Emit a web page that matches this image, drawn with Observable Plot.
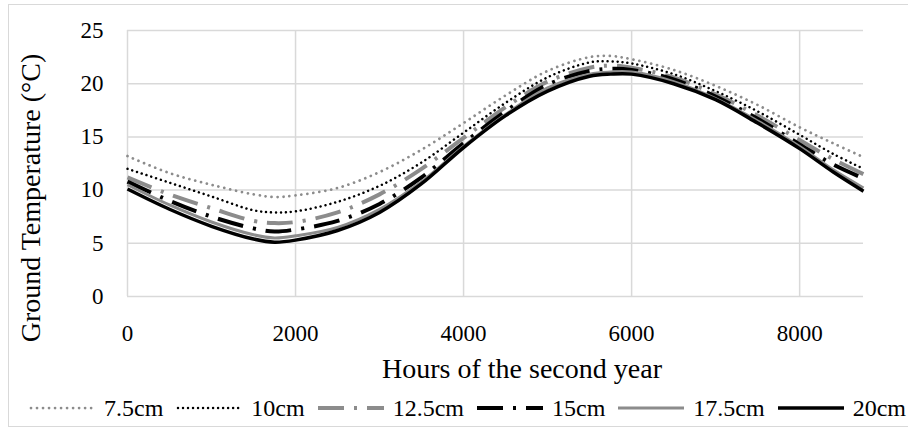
<!DOCTYPE html>
<html><head><meta charset="utf-8">
<script src="https://cdn.jsdelivr.net/npm/d3@7"></script>
<script src="https://cdn.jsdelivr.net/npm/@observablehq/plot@0.6"></script>
<style>
html,body{margin:0;padding:0;background:#fff;}
#wrap{position:relative;width:908px;height:432px;overflow:hidden;font-family:"Liberation Serif",serif;}
#frame{position:absolute;left:8px;top:4px;width:1000px;height:423px;border:1px solid #d9d9d9;box-sizing:border-box;}
#chart{position:absolute;left:0;top:0;}
#legend{position:absolute;left:29px;top:388px;height:40px;display:flex;align-items:center;white-space:nowrap;font-size:24px;color:#000;}
#legend .item{display:flex;align-items:center;margin-right:13px;}
#legend svg{margin-right:9px;}
</style></head>
<body><div id="wrap"><div id="frame"></div><div id="chart"></div><div id="legend"></div></div>
<script>
// Data
const hours = [0, 500, 1000, 1500, 1750, 2000, 2500, 3000, 3500, 4000, 4500, 5000, 5500, 5750, 6000, 6500, 7000, 7500, 8000, 8400, 8760];
const t7_5 = [13.2, 11.6, 10.5, 9.6, 9.35, 9.5, 10.2, 11.7, 13.8, 16.3, 18.9, 21.2, 22.5, 22.6, 22.3, 21.3, 19.8, 18.0, 15.9, 14.4, 13.1];
const t10  = [12.0, 10.7, 9.4, 8.1, 7.9, 8.0, 8.9, 10.4, 12.6, 15.4, 18.2, 20.6, 22.0, 22.1, 21.9, 20.9, 19.3, 17.4, 15.2, 13.4, 12.0];
const t12_5 = [11.2, 9.6, 8.3, 7.1, 6.9, 7.0, 7.9, 9.6, 12.0, 14.9, 17.8, 20.2, 21.5, 21.7, 21.5, 20.6, 19.0, 17.0, 14.7, 12.9, 11.5];
const t15  = [10.8, 9.0, 7.5, 6.4, 6.1, 6.3, 7.1, 8.7, 11.2, 14.4, 17.4, 19.9, 21.2, 21.4, 21.3, 20.4, 18.8, 16.7, 14.3, 12.4, 11.1];
const t17_5 = [10.5, 8.6, 7.0, 5.8, 5.5, 5.7, 6.5, 8.2, 10.8, 14.1, 17.1, 19.6, 20.9, 21.1, 21.1, 20.2, 18.6, 16.5, 14.1, 11.9, 10.2];
const t20  = [10.1, 8.2, 6.6, 5.4, 5.1, 5.3, 6.2, 7.9, 10.6, 14.0, 17.0, 19.3, 20.7, 20.9, 20.9, 20.0, 18.5, 16.3, 13.9, 11.7, 9.9];
const seriesNames = ["7.5cm", "10cm", "12.5cm", "15cm", "17.5cm", "20cm"];
const seriesValues = [t7_5, t10, t12_5, t15, t17_5, t20];
const xTicks = [0, 2000, 4000, 6000, 8000];
const yTicks = [0, 5, 10, 15, 20, 25];
const xTitle = "Hours of the second year";
const yTitle = "Ground Temperature (°C)";

// Styles
const FONT = "Liberation Serif";
const GRAY = "#8c8c8c";
const styles = [
  {color: GRAY, width: 2.75, dash: "0.01,6", cap: "round"},
  {color: "#000", width: 2.5, dash: "0.01,5", cap: "round"},
  {color: GRAY, width: 4, dash: "26,10,3,10", cap: "butt"},
  {color: "#000", width: 4, dash: "26,10,3,10", cap: "butt"},
  {color: GRAY, width: 3, dash: null, cap: "butt"},
  {color: "#000", width: 3.5, dash: null, cap: "butt"}
];

const rows = [];
seriesNames.forEach((name, i) => hours.forEach((h, j) => rows.push({h, t: seriesValues[i][j], name})));

const marks = [
  Plot.ruleY(yTicks, {stroke: "#d9d9d9", strokeWidth: 1.5}),
  Plot.ruleX(xTicks, {stroke: "#d9d9d9", strokeWidth: 1.5}),
  Plot.text(xTicks, {x: d => d, y: 0, text: d => String(d), dy: 37, textAnchor: "middle",
    fontFamily: FONT, fontSize: 23, fill: "#000"}),
  Plot.text(yTicks, {x: 0, y: d => d, text: d => String(d), dx: -24, textAnchor: "end",
    fontFamily: FONT, fontSize: 23, fill: "#000"})
];
seriesNames.forEach((name, i) => {
  const st = styles[i];
  marks.push(Plot.line(rows.filter(r => r.name === name), {
    x: "h", y: "t", stroke: st.color, strokeWidth: st.width,
    strokeDasharray: st.dash || undefined, strokeLinecap: st.cap, strokeLinejoin: "round",
    curve: "catmull-rom"
  }));
});

const plot = Plot.plot({
  width: 908, height: 388,
  marginLeft: 127, marginRight: 45, marginTop: 30, marginBottom: 92,
  x: {domain: [0, 8760], axis: null},
  y: {domain: [0, 25], axis: null},
  style: {fontFamily: FONT, background: "transparent", overflow: "visible"},
  marks
});
document.getElementById("chart").appendChild(plot);

const svg = d3.select(plot);
svg.append("text").attr("x", 522).attr("y", 378).attr("text-anchor", "middle")
  .attr("font-family", FONT).attr("font-size", 28).attr("fill", "#000").text(xTitle);
svg.append("text").attr("transform", "translate(40,198) rotate(-90)").attr("text-anchor", "middle")
  .attr("font-family", FONT).attr("font-size", 28).attr("fill", "#000").text(yTitle);

// Legend
const legend = d3.select("#legend");
seriesNames.forEach((name, i) => {
  const st = styles[i];
  const item = legend.append("div").attr("class", "item");
  const s = item.append("svg").attr("width", 66).attr("height", 12);
  s.append("line").attr("x1", st.cap === "round" ? 2 : 0).attr("x2", 66).attr("y1", 6).attr("y2", 6)
    .attr("stroke", st.color).attr("stroke-width", st.width)
    .attr("stroke-dasharray", st.dash).attr("stroke-linecap", st.cap);
  item.append("span").text(name);
});
</script>
</body></html>
